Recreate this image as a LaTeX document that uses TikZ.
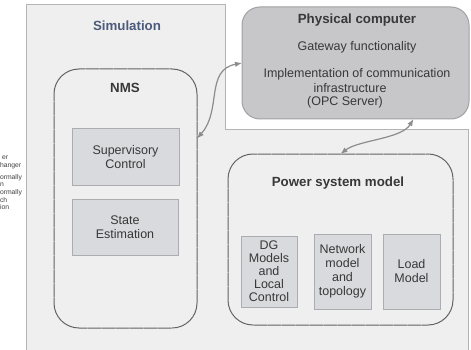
\documentclass[tikz,border=0pt]{standalone}
\usepackage{fontspec}
\setmainfont{Liberation Sans}
\usetikzlibrary{arrows.meta}
\definecolor{simfill}{HTML}{EFEFEF}
\definecolor{simline}{HTML}{B4B4B4}
\definecolor{pcfill}{HTML}{C7C7C9}
\definecolor{pcline}{HTML}{A2A2A4}
\definecolor{boxfill}{HTML}{D8DADD}
\definecolor{boxline}{HTML}{ABADB0}
\definecolor{groupline}{HTML}{626262}
\definecolor{txt}{HTML}{383838}
\definecolor{simtxt}{HTML}{4C5B7A}
\definecolor{link}{HTML}{8C8C8C}
\begin{document}
\begin{tikzpicture}[x=1pt,y=-1pt,
  every node/.style={text=txt, inner sep=0pt, outer sep=0pt},
  title/.style={font=\fontsize{13.3}{15}\selectfont\bfseries},
  body/.style={font=\fontsize{12.5}{14}\selectfont, align=center},
  group/.style={draw=groupline, line width=1pt, fill=simfill,
    rounded corners=25pt, dash pattern=on 2.5pt off 0.3pt},
  modbox/.style={draw=boxline, line width=1pt, fill=boxfill,
    minimum width=#1, font=\fontsize{12.5}{13}\selectfont, align=center},
  link/.style={draw=link, line width=1.2pt,
    {Latex[length=7pt,width=5.5pt]}-{Latex[length=7pt,width=5.5pt]}}
]
\useasboundingbox (0,0) rectangle (471,350);
\fill[white] (0,0) rectangle (471,350);

% word ends of the neighbouring column at the left edge
\node[anchor=north west, align=left, text=black!75,
      font=\fontsize{6.8}{7.6}\selectfont] (frag) at (0,156)
  {\hspace*{2pt}er\\hanger\\[4.5pt]ormally\\n\\ormally\\ch\\ion};

% simulation area
\fill[simfill] (26,5) -- (225,5) -- (225,130) -- (468,130) -- (468,350)
  -- (26,350) -- cycle;
\draw[simline, line width=1pt] (26,350) -- (26,5) -- (225,5) -- (225,130)
  -- (468,130) -- (468,350);
\node[title, text=simtxt] (sim) at (127,26) {Simulation};

% physical computer
\node[draw=pcline, fill=pcfill, line width=1pt, rounded corners=18pt,
      minimum width=227pt, minimum height=112pt] (pc) at (355.5,63) {};
\node[title] (pctitle) at (357,20) {Physical computer};
\node[body] (gw) at (357,47) {Gateway functionality};
\node[body] (impl) at (357,74) {Implementation of communication};
\node[body] (infra) at (350,88) {infrastructure};
\node[body] (opc) at (345,102) {(OPC Server)};

% network management system
\node[group, minimum width=143pt, minimum height=259pt] (nms) at (125.5,198.5) {};
\node[title] (nmstitle) at (125,88) {NMS};
\node[modbox=107pt, minimum height=56pt] (sup) at (125.5,157)
  {Supervisory\\[1pt]Control};
\node[modbox=106pt, minimum height=56pt] (se) at (125,227)
  {State\\[1pt]Estimation};

% power system model
\node[group, minimum width=225pt, minimum height=171pt] (psm) at (340.5,239.5) {};
\node[title] (psmtitle) at (338,183) {Power system model};
\node[modbox=56pt, minimum height=71pt] (dg) at (269,271.5)
  {DG\\Models\\and\\Local\\Control};
\node[modbox=57pt, minimum height=75pt] (net) at (342.5,271.5)
  {Network\\[1pt]model\\[1pt]and\\[1pt]topology};
\node[modbox=57pt, minimum height=75pt] (load) at (411.5,271.5)
  {Load\\[1pt]Model};

% data exchange links
\draw[link] (nms.40) .. controls +(25,-28) and +(-37,7) .. (pc.west);
\draw[link] (pc.-44.7) .. controls +(-12,20) and +(18,-14) .. (psm.north);
\end{tikzpicture}
\end{document}
